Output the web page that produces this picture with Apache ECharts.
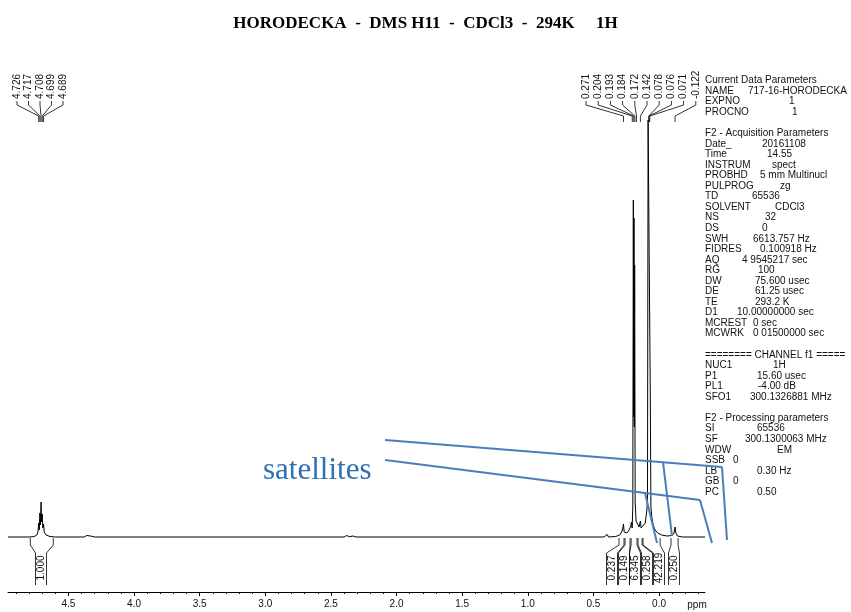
<!DOCTYPE html>
<html>
<head>
<meta charset="utf-8">
<script src="https://cdn.jsdelivr.net/npm/echarts@6/dist/echarts.min.js"></script>
<style>
  html, body { margin: 0; padding: 0; background: #fff; }
  #chart { width: 851px; height: 612px; }
</style>
</head>
<body>
<div id="chart"></div>
<script>
// spectrum trace (ppm, intensity in arbitrary units)
var tracePpm = [4.96, 4.80, 4.76, 4.74, 4.732, 4.726, 4.722, 4.717, 4.713, 4.708, 4.704, 4.699, 4.695, 4.689, 4.684, 4.67, 4.64, 4.60,
  4.38, 4.36, 4.33, 4.30, 2.40, 2.38, 2.36, 2.33, 2.31, 0.42, 0.395, 0.385,
  0.33, 0.30, 0.285, 0.276, 0.271, 0.266, 0.245, 0.228, 0.216, 0.21, 0.205,
  0.20, 0.196, 0.1935, 0.191, 0.1885, 0.186, 0.182, 0.175, 0.16, 0.152, 0.147, 0.142, 0.137, 0.125, 0.105,
  0.092, 0.088, 0.0835, 0.0685, 0.067, 0.062, 0.055, 0.045, 0.03, 0.01, -0.02, -0.06, -0.10, -0.114, -0.122, -0.128, -0.14, -0.18, -0.35]
var traceIntensity = [0, 0, 0.5, 2, 5, 14, 7, 24, 12, 35, 15, 23, 9, 13, 5, 2, 0.5, 0,
  0, 1.5, 1, 0, 0, 1.5, 0.3, 1, 0, 0, 2.5, 0,
  0.5, 2, 5, 9, 13, 5, 4, 7, 11, 15, 9,
  30, 337, 120, 319, 110, 272, 35, 16, 14, 10, 11, 16, 9, 10, 14,
  28, 40, 417, 417, 147, 30, 20, 12, 7, 4, 2, 1, 1.5, 4, 10, 4, 1, 0, 0]

// peak picking
var peakShiftsLeft = [4.726, 4.717, 4.708, 4.699, 4.689]
var peakShiftsRight = [0.271, 0.204, 0.193, 0.184, 0.172, 0.142, 0.078, 0.076, 0.071, -0.122]

// integrals: region [from, to] in ppm and value
var integralFrom = [4.79, 0.305, 0.259, 0.213, 0.160, 0.122, -0.091]
var integralTo = [4.615, 0.267, 0.221, 0.168, 0.129, -0.008, -0.145]
var integralValues = [1.000, 0.237, 0.149, 6.345, 0.258, 42.219, 0.250]

// axis ticks
var majorTicks = [4.5, 4.0, 3.5, 3.0, 2.5, 2.0, 1.5, 1.0, 0.5, 0.0]

// acquisition parameters text
var paramLines = [
  ['Current Data Parameters', '', 0],
  ['NAME', '717-16-HORODECKA', 748],
  ['EXPNO', '1', 789],
  ['PROCNO', '1', 792],
  null,
  ['F2 - Acquisition Parameters', '', 0],
  ['Date_', '20161108', 762],
  ['Time', '14.55', 767],
  ['INSTRUM', 'spect', 772],
  ['PROBHD', '5 mm Multinucl', 760],
  ['PULPROG', 'zg', 780],
  ['TD', '65536', 752],
  ['SOLVENT', 'CDCl3', 775],
  ['NS', '32', 765],
  ['DS', '0', 762],
  ['SWH', '6613.757 Hz', 753],
  ['FIDRES', '0.100918 Hz', 760],
  ['AQ', '4 9545217 sec', 742],
  ['RG', '100', 758],
  ['DW', '75.600 usec', 755],
  ['DE', '61.25 usec', 755],
  ['TE', '293.2 K', 755],
  ['D1', '10.00000000 sec', 737],
  ['MCREST', '0 sec', 753],
  ['MCWRK', '0 01500000 sec', 753],
  null,
  ['======== CHANNEL f1 =====', '', 0],
  ['NUC1', '1H', 773],
  ['P1', '15.60 usec', 757],
  ['PL1', '-4.00 dB', 758],
  ['SFO1', '300.1326881 MHz', 750],
  null,
  ['F2 - Processing parameters', '', 0],
  ['SI', '65536', 757],
  ['SF', '300.1300063 MHz', 745],
  ['WDW', 'EM', 777],
  ['SSB', '0', 733],
  ['LB', '0.30 Hz', 757],
  ['GB', '0', 733],
  ['PC', '0.50', 757]
]

// layout
var leftLabelX = peakShiftsLeft.map(function (v, i) { return 17 + i * 11.5 })
var rightLabelX = peakShiftsRight.map(function (v, i) { return 586 + i * 12.2 })
var peakLabelX = leftLabelX.concat(rightLabelX)
var integralColumnX = [41, 612, 624, 635, 647, 659, 674]
var blue = '#4a7ebb'
var smallFont = '10px "Liberation Sans", Arial, sans-serif'

var minorTicks = []
for (var t = -3; t <= 49; t++) {
  if (t % 5 !== 0) minorTicks.push(t / 10)
}

var chart = echarts.init(document.getElementById('chart'))

function renderPeakLeader (params, api) {
  var i = params.dataIndex
  var px = api.coord([api.value(0), 0])[0]
  var lx = peakLabelX[i]
  return {
    type: 'group',
    children: [{
      type: 'polyline',
      shape: { points: [[lx, 101], [lx, 105], [px, 116], [px, 122]] },
      style: { stroke: '#000', lineWidth: 0.8, fill: null }
    }, {
      type: 'text',
      x: lx,
      y: 99,
      rotation: Math.PI / 2,
      style: {
        text: api.value(0).toFixed(3),
        font: smallFont,
        fill: '#111',
        align: 'left',
        verticalAlign: 'middle'
      }
    }]
  }
}

function renderIntegral (params, api) {
  var i = params.dataIndex
  var x1 = api.coord([api.value(0), 0])[0]
  var x2 = api.coord([api.value(1), 0])[0]
  var y0 = api.coord([0, 0])[1]
  var cx = integralColumnX[i]
  var hw = 5.5
  var lineStyle = { stroke: '#000', lineWidth: 0.8, fill: null }
  return {
    type: 'group',
    children: [{
      type: 'polyline',
      shape: { points: [[x1, y0 + 1], [x1, y0 + 8], [cx - hw, y0 + 16], [cx - hw, y0 + 48]] },
      style: lineStyle
    }, {
      type: 'polyline',
      shape: { points: [[x2, y0 + 1], [x2, y0 + 8], [cx + hw, y0 + 16], [cx + hw, y0 + 48]] },
      style: lineStyle
    }, {
      type: 'text',
      x: cx,
      y: y0 + 31,
      rotation: Math.PI / 2,
      style: {
        text: api.value(2).toFixed(3),
        font: smallFont,
        fill: '#111',
        align: 'center',
        verticalAlign: 'middle'
      }
    }]
  }
}

var graphics = [{
  type: 'text',
  x: 697,
  y: 605,
  style: { text: 'ppm', font: smallFont, fill: '#111', align: 'center', verticalAlign: 'middle' }
}, {
  type: 'text',
  x: 263,
  y: 471,
  style: { text: 'satellites', font: '31px "Liberation Serif", "Times New Roman", serif', fill: '#2f6fb5', verticalAlign: 'middle' }
}]

// blue annotation lines
var annotLines = [
  [[385, 440], [722, 467]],
  [[663, 462], [672, 536]],
  [[722, 467], [727, 540]],
  [[385, 460], [700, 500]],
  [[645, 493], [657, 543]],
  [[700, 500], [712, 543]]
]
annotLines.forEach(function (pts) {
  graphics.push({
    type: 'polyline',
    z: 100,
    shape: { points: pts },
    style: { stroke: blue, lineWidth: 2, fill: null }
  })
})

paramLines.forEach(function (row, i) {
  if (!row) return
  var y = 80.5 + i * 10.55
  graphics.push({
    type: 'text', x: 705, y: y,
    style: { text: row[0], font: smallFont, fill: '#111', verticalAlign: 'middle' }
  })
  if (row[1]) {
    graphics.push({
      type: 'text', x: row[2], y: y,
      style: { text: row[1], font: smallFont, fill: '#111', verticalAlign: 'middle' }
    })
  }
})

chart.setOption({
  animation: false,
  backgroundColor: '#fff',
  title: {
    text: 'HORODECKA  -  DMS H11  -  CDCl3  -  294K     1H',
    left: 'center',
    top: 10,
    textStyle: {
      fontFamily: '"Liberation Serif", "Times New Roman", serif',
      fontWeight: 'bold',
      fontSize: 17,
      color: '#000'
    }
  },
  grid: { left: 8, right: 146, top: 40, bottom: 20 },
  xAxis: [{
    type: 'value',
    min: -0.35,
    max: 4.96,
    inverse: true,
    splitLine: { show: false },
    axisLine: { onZero: false, lineStyle: { color: '#000', width: 1 } },
    axisTick: { customValues: majorTicks, length: 4, lineStyle: { color: '#000' } },
    axisLabel: {
      customValues: majorTicks,
      margin: 7,
      color: '#111',
      fontSize: 10,
      fontFamily: '"Liberation Sans", Arial, sans-serif',
      formatter: function (v) { return v.toFixed(1) }
    }
  }, {
    type: 'value',
    min: -0.35,
    max: 4.96,
    inverse: true,
    position: 'bottom',
    splitLine: { show: false },
    axisLine: { show: false, onZero: false },
    axisTick: { customValues: minorTicks, length: 2, lineStyle: { color: '#000' } },
    axisLabel: { show: false }
  }],
  yAxis: {
    type: 'value',
    min: -55,
    max: 497,
    show: false,
    splitLine: { show: false }
  },
  series: [{
    type: 'line',
    data: tracePpm.map(function (p, i) { return [p, traceIntensity[i]] }),
    showSymbol: false,
    symbol: 'none',
    lineStyle: { color: '#000', width: 1 },
    z: 2
  }, {
    type: 'custom',
    renderItem: renderPeakLeader,
    data: peakShiftsLeft.concat(peakShiftsRight).map(function (v) { return [v, 0] }),
    encode: { x: 0, y: 1 },
    z: 3
  }, {
    type: 'custom',
    renderItem: renderIntegral,
    data: integralFrom.map(function (v, i) { return [v, integralTo[i], integralValues[i]] }),
    encode: { x: [0, 1] },
    z: 3
  }],
  graphic: graphics
})
</script>
</body>
</html>
